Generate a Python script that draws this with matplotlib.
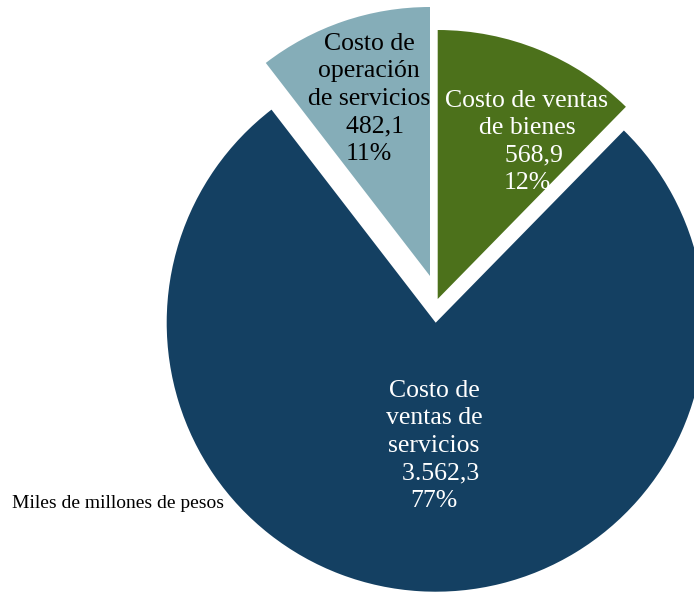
import matplotlib
matplotlib.use("Agg")
import matplotlib.pyplot as plt

# Data
categories = ["Costo de ventas\nde bienes", "Costo de\nventas de\nservicios", "Costo de\noperación\nde servicios"]
values = [568.9, 3562.3, 482.1]
value_labels = ["568,9", "3.562,3", "482,1"]
pct_labels = ["12%", "77%", "11%"]
colors = ["#4C711B", "#144062", "#85ADB8"]
text_colors = ["white", "white", "black"]
unit_note = "Miles de millones de pesos"

W, H = 694, 592
fig = plt.figure(figsize=(W / 100, H / 100), dpi=100)
ax = fig.add_axes([0, 0, 1, 1])

R = 269
blue_center = (435.7, H - 322.7)
wedges, _ = ax.pie(values, colors=colors, startangle=90, counterclock=False,
                   radius=R, center=blue_center, wedgeprops=dict(linewidth=0))
# exploded slices
wedges[0].set_center((437.7, H - 299))
wedges[2].set_center((430.0, H - 276))

ax.set_xlim(0, W)
ax.set_ylim(0, H)
ax.set_aspect("equal")
ax.axis("off")

font = "Liberation Serif"
fs = 18.5
label_pos = [(527, H - 142), (434, H - 446), (369, H - 99)]
value_pad = ["  ", "  ", "  "]
for i in range(3):
    txt = f"{categories[i]}\n{value_pad[i]}{value_labels[i]}\n{pct_labels[i]}"
    ax.text(label_pos[i][0], label_pos[i][1], txt, ha="center", va="center",
            multialignment="center", fontsize=fs, family=font,
            color=text_colors[i], linespacing=1.33)

ax.text(12, H - 503, unit_note, ha="left", va="center", fontsize=14,
        family=font, color="black")

fig.savefig("out.png", dpi=100)
